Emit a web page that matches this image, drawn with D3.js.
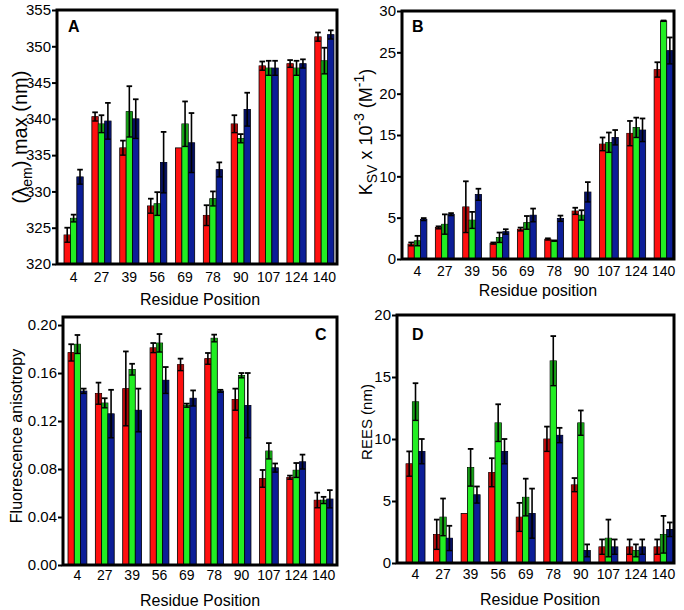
<!DOCTYPE html>
<html><head><meta charset="utf-8">
<script src="https://cdnjs.cloudflare.com/ajax/libs/d3/7.8.5/d3.min.js"></script>
<style>
body{margin:0;background:#fff}
svg{display:block}
text{font-family:Arial,"Liberation Sans",Helvetica,sans-serif;fill:#000}
</style>
</head><body><svg id="c" width="684" height="610"></svg>
<script>
// ---------- data ----------
const categories = ["4","27","39","56","69","78","90","107","124","140"];
const seriesNames = ["S1","S2","S3"];

// Panel A: emission maximum (nm)
const lambdaMax = [[324.0,326.3,332.0],[340.3,339.3,339.7],[336.0,341.0,340.0],[328.0,328.3,334.0],[336.0,339.3,336.7],
                   [326.7,329.0,333.0],[339.3,337.3,341.3],[347.3,347.0,347.0],[347.6,347.0,347.6],[351.3,348.0,351.6]];
const lambdaErr = [[1.0,0.5,1.0],[0.6,1.2,2.5],[1.0,3.5,2.7],[1.0,1.6,4.2],[0.0,3.1,4.1],
                   [1.4,1.0,1.0],[1.2,0.6,2.3],[0.6,1.0,1.0],[0.5,1.0,0.6],[0.6,1.8,0.6]];
const lambdaTicks = [320,325,330,335,340,345,350,355];

// Panel B: Ksv x 10^-3 (M^-1)
const ksv    = [[1.8,2.2,4.8],[3.8,4.2,5.4],[6.3,4.7,7.8],[1.9,2.6,3.3],[3.6,4.4,5.3],
                [2.4,2.2,4.9],[5.8,5.3,8.1],[13.9,14.1,14.7],[15.2,15.9,15.6],[22.9,28.8,25.2]];
const ksvErr = [[0.2,0.6,0.15],[0.15,1.2,0.15],[3.1,1.0,0.7],[0.1,0.6,0.3],[0.2,0.8,0.8],
                [0.1,0.05,0.35],[0.4,0.6,1.2],[0.8,1.2,0.9],[1.5,1.2,1.4],[0.9,0.05,1.6]];
const ksvTicks = [0,5,10,15,20,25,30];

// Panel C: fluorescence anisotropy
const aniso    = [[0.177,0.184,0.145],[0.143,0.135,0.126],[0.147,0.163,0.129],[0.181,0.185,0.154],[0.167,0.133,0.139],
                  [0.172,0.189,0.145],[0.138,0.158,0.133],[0.072,0.095,0.081],[0.073,0.079,0.086],[0.054,0.054,0.055]];
const anisoErr = [[0.007,0.0077,0.002],[0.009,0.004,0.02],[0.031,0.0047,0.018],[0.004,0.0075,0.011],[0.005,0.0015,0.0065],
                  [0.0047,0.003,0.001],[0.009,0.002,0.027],[0.0072,0.0066,0.0036],[0.0015,0.006,0.006],[0.0063,0.0028,0.0074]];
const anisoTicks = [0,0.04,0.08,0.12,0.16,0.20];

// Panel D: REES (nm)
const rees    = [[8,13,9],[2.3,3.7,2],[4,7.7,5.5],[7.3,11.3,9],[3.7,5.3,4],
                 [10,16.3,10.3],[6.3,11.3,1],[1.3,2,1.3],[1.3,1,1.3],[1.3,2.3,2.7]];
const reesErr = [[1,1.5,1],[1.2,1.5,1],[0,1.5,0.67],[1.15,1.5,1],[1.15,1.5,2],
                 [1,2,0.6],[0.55,1,0.5],[0.6,1.5,0.6],[0.6,0.5,0.6],[0.6,1.5,0.57]];
const reesTicks = [0,5,10,15,20];

// ---------- style ----------
const colors = ["#ff1010","#22ee22","#0c1e98"];
const darks  = ["#b00a0a","#169e16","#061060"];

const svg = d3.select("#c");

const panels = [
  {letter:"A", values:lambdaMax, errs:lambdaErr, domain:[320,355], ticks:lambdaTicks, fmt:d3.format("d"),
   box:{l:57,r:337,t:10,b:264}, bars:[64,334], letterPos:[68,32], xPad:8,
   title:"Residue Position", titlePos:[200,305], ylab:"A", ylabPos:[27,137]},
  {letter:"B", values:ksv, errs:ksvErr, domain:[0,30], ticks:ksvTicks, fmt:d3.format("d"),
   box:{l:402,r:674,t:11,b:259}, bars:[408,673], letterPos:[412,32], xPad:7,
   title:"Residue position", titlePos:[538,296], ylab:"B", ylabPos:[372,132]},
  {letter:"C", values:aniso, errs:anisoErr, domain:[0,0.2067], ticks:anisoTicks, fmt:d3.format(".2f"),
   box:{l:63,r:337,t:317,b:565}, bars:[68,333], letterPos:[315,340], xPad:5,
   title:"Residue Position", titlePos:[200,606], ylab:"C", ylabPos:[22,436]},
  {letter:"D", values:rees, errs:reesErr, domain:[0,20], ticks:reesTicks, fmt:d3.format("d"),
   box:{l:397,r:674,t:315,b:563}, bars:[406,673], letterPos:[412,340], xPad:6,
   title:"Residue Position", titlePos:[540,605], ylab:"D", ylabPos:[372,422]}
];

panels.forEach(p => {
  const g = svg.append("g");
  const x = d3.scaleBand().domain(categories).range(p.bars).paddingInner(0.31).paddingOuter(0);
  const xs = d3.scaleBand().domain(seriesNames).range([0, x.bandwidth()]).padding(0);
  const y = d3.scaleLinear().domain(p.domain).range([p.box.b, p.box.t]);
  const y0 = p.domain[0];

  // bars
  categories.forEach((c, i) => {
    seriesNames.forEach((s, j) => {
      const v = p.values[i][j], e = p.errs[i][j];
      const bx = x(c) + xs(s), bw = xs.bandwidth();
      g.append("rect").attr("x", bx).attr("y", y(v)).attr("width", bw).attr("height", y(y0) - y(v))
        .attr("fill", colors[j]).attr("stroke", "#000").attr("stroke-width", 0.8);
      if (e > 0) {
        const lo = Math.max(v - e, y0);
        g.append("rect").attr("x", bx + 0.4).attr("y", y(v)).attr("width", bw - 0.8).attr("height", y(lo) - y(v))
          .attr("fill", darks[j]);
        const cx = bx + bw / 2;
        g.append("line").attr("x1", cx).attr("x2", cx).attr("y1", y(lo)).attr("y2", y(v + e))
          .attr("stroke", "#000").attr("stroke-width", 1.6);
        g.append("line").attr("x1", cx - 2.8).attr("x2", cx + 2.8).attr("y1", y(v + e)).attr("y2", y(v + e))
          .attr("stroke", "#000").attr("stroke-width", 1.8);
        g.append("line").attr("x1", bx + 0.4).attr("x2", bx + bw - 0.4).attr("y1", y(lo)).attr("y2", y(lo))
          .attr("stroke", "#000").attr("stroke-width", 1.4);
      }
    });
  });

  // frame
  g.append("rect").attr("x", p.box.l).attr("y", p.box.t)
    .attr("width", p.box.r - p.box.l).attr("height", p.box.b - p.box.t)
    .attr("fill", "none").attr("stroke", "#000").attr("stroke-width", 3);

  // y axis
  const ya = g.append("g").attr("transform", `translate(${p.box.l - 1},0)`)
    .call(d3.axisLeft(y).tickValues(p.ticks).tickFormat(p.fmt).tickSize(4).tickPadding(1));
  ya.select(".domain").remove();
  ya.selectAll("line").attr("stroke-width", 2);
  ya.selectAll("text").attr("font-size", 15).attr("font-family", "Arial, 'Liberation Sans', sans-serif");

  // x axis
  const xa = g.append("g").attr("transform", `translate(0,${p.box.b})`)
    .call(d3.axisBottom(x).tickSize(0).tickPadding(p.xPad));
  xa.select(".domain").remove();
  xa.selectAll("text").attr("font-size", 14).attr("font-family", "Arial, 'Liberation Sans', sans-serif");

  // titles
  g.append("text").attr("x", p.titlePos[0]).attr("y", p.titlePos[1]).attr("text-anchor", "middle")
    .attr("font-size", 16).text(p.title);
  g.append("text").attr("x", p.letterPos[0]).attr("y", p.letterPos[1])
    .attr("font-size", 16).attr("font-weight", "bold").text(p.letter);

  // y label
  const yl = g.append("text").attr("text-anchor", "middle")
    .attr("transform", `translate(${p.ylabPos[0]},${p.ylabPos[1]}) rotate(-90)`);
  if (p.ylab === "A") {
    yl.attr("font-size", 20);
    yl.append("tspan").text("(λ");
    yl.append("tspan").attr("baseline-shift", "-5").attr("font-size", 14).text("em");
    yl.append("tspan").text(") max (nm)");
  } else if (p.ylab === "B") {
    yl.attr("font-size", 18);
    yl.append("tspan").text("K");
    yl.append("tspan").attr("baseline-shift", "-5").attr("font-size", 14).text("SV");
    yl.append("tspan").text(" x 10");
    yl.append("tspan").attr("baseline-shift", "8").attr("font-size", 14).text("-3");
    yl.append("tspan").text(" (M");
    yl.append("tspan").attr("baseline-shift", "8").attr("font-size", 14).text("-1");
    yl.append("tspan").text(")");
  } else if (p.ylab === "C") {
    yl.attr("font-size", 16).text("Fluorescence anisotropy");
  } else {
    yl.attr("font-size", 15).text("REES (nm)");
  }
});
</script>
</body></html>
